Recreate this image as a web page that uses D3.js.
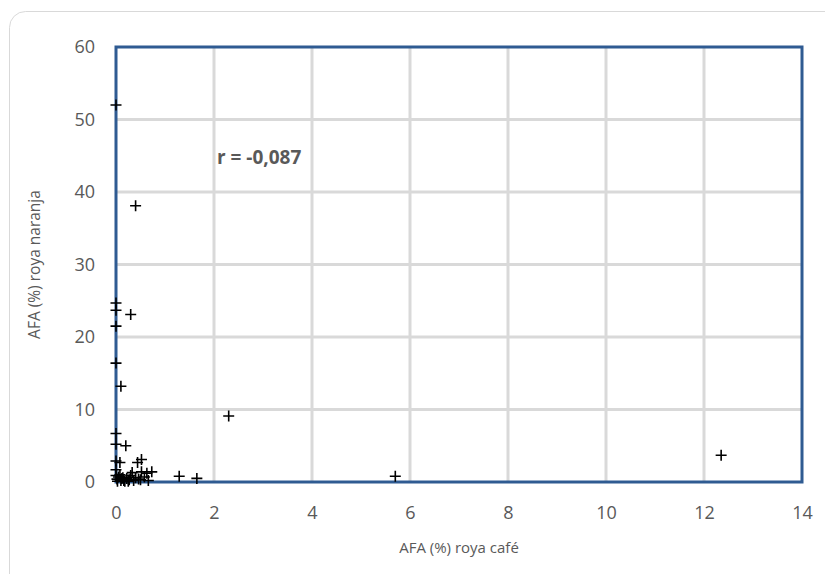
<!DOCTYPE html>
<html>
<head>
<meta charset="utf-8">
<script src="https://cdn.jsdelivr.net/npm/d3@7"></script>
<style>
  body { margin: 0; background: #fff; }
  svg { display: block; font-family: "Open Sans", "Noto Sans", sans-serif; }
</style>
</head>
<body>
<svg id="chart" width="825" height="574"></svg>
<script>
// roya café (x) vs roya naranja (y), AFA %
var cafe = [0, 0.4, 0, 0, 0.3, 0, 0, 0.1, 2.3, 5.7, 12.35, 1.65, 1.29,
            0, 0, 0.2, 0, 0.08, 0.44, 0.52, 0, 0.33, 0.52, 0.63, 0.66, 0.73,
            0, 0.02, 0.05, 0.1, 0.14, 0.18, 0.22, 0.27, 0.3, 0.36, 0.4, 0.46,
            0.03, 0.08, 0.12, 0.16, 0.25, 0.5, 0.58];
var naranja = [52, 38.1, 24.7, 23.7, 23.1, 21.5, 16.4, 13.2, 9.1, 0.8, 3.7, 0.5, 0.8,
               6.7, 5.2, 5.0, 2.9, 2.7, 2.7, 3.1, 1.7, 1.3, 1.4, 1.2, 0.2, 1.4,
               0.9, 0.4, 0.7, 0.2, 0.6, 0.1, 0.5, 0.3, 0.9, 0.2, 0.6, 0.4,
               0.1, 1.0, 0.5, 0.2, 0.1, 0.3, 0.7];
var xTicks = [0, 2, 4, 6, 8, 10, 12, 14];
var yTicks = [0, 10, 20, 30, 40, 50, 60];
var rLabel = "r = -0,087";

var svg = d3.select('#chart');
var margin = { top: 47, right: 23, bottom: 92, left: 116 };
var width = 825, height = 574;

// outer chart border
svg.append('rect')
  .attr('x', 9.5).attr('y', 11.5)
  .attr('width', 840).attr('height', 600)
  .attr('rx', 16)
  .attr('fill', '#fff')
  .attr('stroke', '#d9d9d9')
  .attr('stroke-width', 1);

var x = d3.scaleLinear().domain([0, 14]).range([margin.left, width - margin.right]);
var y = d3.scaleLinear().domain([0, 60]).range([height - margin.bottom, margin.top]);

// gridlines
svg.append('g')
  .selectAll('line')
  .data(xTicks.slice(1, -1))
  .enter().append('line')
  .attr('x1', d => x(d)).attr('x2', d => x(d))
  .attr('y1', y(60)).attr('y2', y(0))
  .attr('stroke', '#d9d9d9').attr('stroke-width', 3);

svg.append('g')
  .selectAll('line')
  .data(yTicks.slice(1, -1))
  .enter().append('line')
  .attr('x1', x(0)).attr('x2', x(14))
  .attr('y1', d => y(d)).attr('y2', d => y(d))
  .attr('stroke', '#d9d9d9').attr('stroke-width', 3);

// tick labels
var xAxis = svg.append('g')
  .attr('transform', `translate(0,${y(0)})`)
  .call(d3.axisBottom(x).tickValues(xTicks).tickSize(0).tickPadding(31));
var yAxis = svg.append('g')
  .attr('transform', `translate(${x(0)},0)`)
  .call(d3.axisLeft(y).tickValues(yTicks).tickSize(0).tickPadding(21));
[xAxis, yAxis].forEach(function(g) {
  g.select('.domain').remove();
  g.selectAll('.tick text')
    .style('font-size', '18px')
    .style('font-family', '"Open Sans", "Noto Sans", sans-serif')
    .attr('fill', '#595959');
});
xAxis.selectAll('.tick text').attr('dy', '0.32em');

// plot frame
svg.append('rect')
  .attr('x', x(0)).attr('y', y(60))
  .attr('width', x(14) - x(0)).attr('height', y(0) - y(60))
  .attr('fill', 'none')
  .attr('stroke', '#2f5b92')
  .attr('stroke-width', 3);

// markers
var s = 5.5;
svg.append('g')
  .selectAll('path')
  .data(d3.range(cafe.length))
  .enter().append('path')
  .attr('d', function(i) {
    var px = x(cafe[i]), py = y(naranja[i]);
    return `M${px - s},${py}H${px + s}M${px},${py - s}V${py + s}`;
  })
  .attr('stroke', '#000')
  .attr('stroke-width', 1.6)
  .attr('fill', 'none');

// correlation note
svg.append('text')
  .attr('x', x(2.06)).attr('y', y(43.9))
  .attr('fill', '#595959')
  .style('font-size', '19px')
  .style('font-weight', 'bold')
  .text(rLabel);

// axis titles
svg.append('text')
  .attr('x', (x(0) + x(14)) / 2).attr('y', 553)
  .attr('text-anchor', 'middle')
  .attr('fill', '#595959')
  .style('font-size', '15px')
  .text('AFA (%) roya café');

svg.append('text')
  .attr('transform', `translate(40,${(y(0) + y(60)) / 2}) rotate(-90)`)
  .attr('text-anchor', 'middle')
  .attr('fill', '#595959')
  .style('font-size', '15.5px')
  .text('AFA (%) roya naranja');
</script>
</body>
</html>
